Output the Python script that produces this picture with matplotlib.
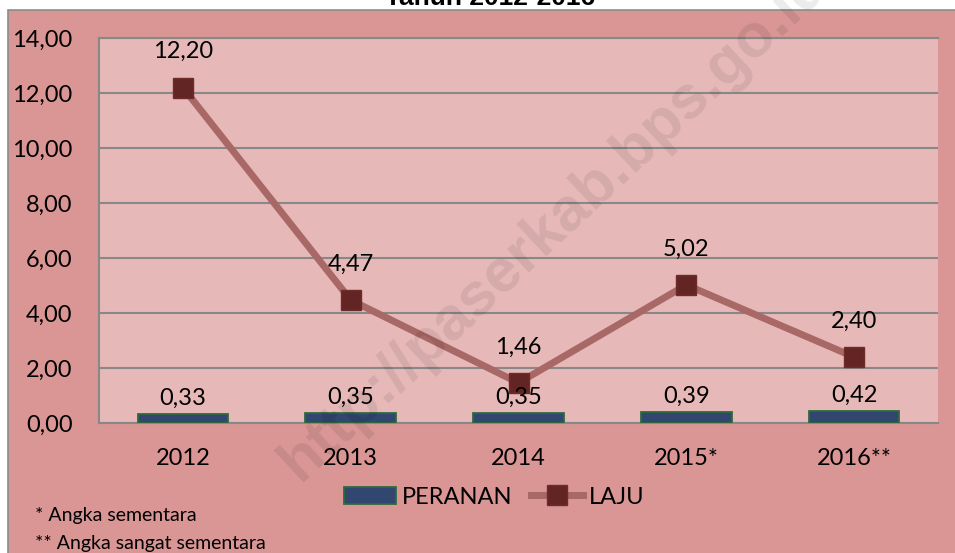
import numpy as np
import matplotlib
matplotlib.use("Agg")
import matplotlib.pyplot as plt
from matplotlib.patches import Rectangle

plt.rcParams['font.family'] = ['Lato', 'DejaVu Sans']

# data
tahun = ['2012', '2013', '2014', '2015*', '2016**']
peranan = [0.33, 0.35, 0.35, 0.39, 0.42]
laju = [12.20, 4.47, 1.46, 5.02, 2.40]
y_ticks = [0, 2, 4, 6, 8, 10, 12, 14]

W, H = 955, 553
fig = plt.figure(figsize=(W / 100, H / 100), dpi=100)
fig.patch.set_facecolor('white')

def fx(px):
    return px / W

def fy(py):
    return 1 - py / H

# outer chart area
bg = Rectangle((fx(8), -0.05), 1.1, fy(10) + 0.05, transform=fig.transFigure,
               facecolor='#D99694', edgecolor='#8c8c8c', lw=1.2, zorder=-10)
fig.patches.append(bg)

# title, cut off by the top of the picture
fig.text(fx(490), fy(5), 'Tahun 2012-2016', ha='center', va='baseline',
         fontsize=19, fontweight='bold', family='Liberation Sans', zorder=1)

ax = fig.add_axes([fx(99), fy(423), fx(938) - fx(99), fy(38) - fy(423)])
ax.set_facecolor('#E6B9B8')

x = np.arange(len(tahun))
bars = ax.bar(x, peranan, width=0.54, color='#31476F', edgecolor='#2E6B3A', lw=1.3,
              label='PERANAN', zorder=3)
line, = ax.plot(x, laju, color='#A86866', lw=5, marker='s', markersize=14.5,
                markerfacecolor='#632523', markeredgecolor='#6e2b29', label='LAJU',
                zorder=4)

for i in range(len(tahun)):
    ax.annotate(f'{peranan[i]:.2f}'.replace('.', ','), (x[i], peranan[i]),
                xytext=(0, 16), textcoords='offset pixels', ha='center',
                va='center', fontsize=17, zorder=5)
    ax.annotate(f'{laju[i]:.2f}'.replace('.', ','), (x[i], laju[i]),
                xytext=(0, 36), textcoords='offset pixels', ha='center',
                va='center', fontsize=17, zorder=5)

ax.set_xlim(-0.5, len(tahun) - 0.5)
ax.set_ylim(0, 14)
ax.set_yticks(y_ticks)
ax.set_yticklabels([f'{v:.2f}'.replace('.', ',') for v in y_ticks])
ax.set_xticks(x)
ax.set_xticklabels(tahun)
ax.tick_params(axis='both', length=0, labelsize=17)
ax.tick_params(axis='y', pad=19)
ax.tick_params(axis='x', pad=18)
ax.yaxis.grid(True, color='#888888', lw=1.5, zorder=1)
ax.set_axisbelow(True)
ax.spines['right'].set_visible(False)
for s in ['left', 'bottom', 'top']:
    ax.spines[s].set_color('#888888')
    ax.spines[s].set_linewidth(1.5)

fig.legend([bars, line], ['PERANAN', 'LAJU'], loc='center',
           bbox_to_anchor=(fx(494), fy(497)), ncol=2, frameon=False,
           fontsize=17, handlelength=2.2, handletextpad=0.25, columnspacing=0.8,
           borderpad=0, handleheight=0.7)

fig.text(fx(35), fy(516), '* Angka sementara', ha='left', va='center', fontsize=14)
fig.text(fx(35), fy(543), '** Angka sangat sementara', ha='left', va='center', fontsize=14)

# watermark
fig.text(fx(300), fy(482), 'http://paserkab.bps.go.id', rotation=43,
         rotation_mode='anchor', ha='left', va='baseline', fontsize=44,
         fontweight='bold', family='Liberation Sans', color='black',
         alpha=0.08, zorder=10)

fig.savefig('out.png', dpi=100)
